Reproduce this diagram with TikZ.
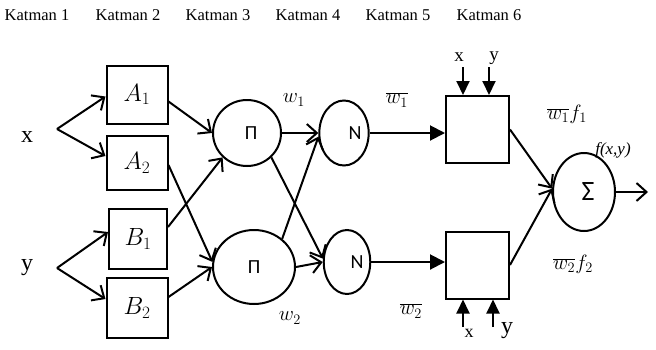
\documentclass[tikz,border=0pt]{standalone}
\usepackage{fontspec}
\setmainfont{Liberation Serif}
\newfontfamily\opfont{Carlito}
\usetikzlibrary{shapes.geometric, arrows.meta, positioning}

\begin{document}
\begin{tikzpicture}[
    x=1pt, y=-1pt,
    line width=2pt,
    layer/.style={font=\fontsize{16.5}{18}\selectfont, inner sep=0pt},
    inlabel/.style={font=\fontsize{24}{26}\selectfont, inner sep=0pt},
    smalllabel/.style={font=\fontsize{19}{20}\selectfont, inner sep=0pt},
    mfbox/.style={draw, rectangle, minimum width=61pt, minimum height=58pt, inner sep=0pt, font=\fontsize{25}{28}\selectfont},
    rulebox/.style={draw, rectangle, minimum width=63pt, minimum height=67pt, inner sep=0pt},
    opnode/.style={draw, ellipse, inner sep=0pt, font=\opfont\fontsize{20}{22}\selectfont},
    wlabel/.style={font=\fontsize{20}{22}\selectfont, inner sep=0pt},
    arrow/.style={-{Straight Barb[length=10pt,width=18pt]}},
    fillarrow/.style={-{Triangle[length=15pt,width=15pt]}}
]
\useasboundingbox (0,0) rectangle (656,349);

% Layer titles
\node[layer] (k1) at (37,15) {Katman 1};
\node[layer] (k2) at (128,15) {Katman 2};
\node[layer] (k3) at (218,15) {Katman 3};
\node[layer] (k4) at (308,15) {Katman 4};
\node[layer] (k5) at (398,15) {Katman 5};
\node[layer] (k6) at (489,15) {Katman 6};

% Inputs
\node[inlabel] (xin) at (27,137) {x};
\node[inlabel] (yin) at (27,268) {y};
\coordinate (xsplit) at (57,129);
\coordinate (ysplit) at (57,268);

% Membership functions
\node[mfbox] (a1) at (137,94.5) {$A_1$};
\node[mfbox, minimum height=54pt] (a2) at (137,163) {$A_2$};
\node[mfbox, minimum width=58pt, minimum height=60pt] (b1) at (138,239) {$B_1$};
\node[mfbox, minimum height=60pt] (b2) at (137,308) {$B_2$};

% Product nodes
\node[opnode, minimum width=68pt, minimum height=66pt] (pi1) at (247,133) {\hspace*{8pt}Π};
\node[opnode, minimum width=82pt, minimum height=74pt] (pi2) at (254,267) {Π};
\node[wlabel] (w1) at (294,100) {$w_1$};
\node[wlabel] (w2) at (290,318) {$w_2$};

% Normalisation nodes
\node[opnode, minimum width=45pt, minimum height=65pt] (n1) at (344,133) {\hspace*{22pt}N};
\node[opnode, minimum width=43pt, minimum height=64pt] (n2) at (347,262) {\hspace*{20pt}N};
\node[wlabel] (wb1) at (397,100) {$\overline{w_1}$};
\node[wlabel] (wb2) at (411,311) {$\overline{w_2}$};

% Rule outputs
\node[rulebox] (rule1) at (477.5,129.5) {};
\node[rulebox] (rule2) at (477.5,265) {};
\node[smalllabel] (xt) at (459,57) {x};
\node[smalllabel] (yt) at (494,58) {y};
\coordinate (xtop) at (463,67);
\coordinate (ytop) at (489,67);
\node[smalllabel, font=\fontsize{18}{20}\selectfont] (xb) at (469,333) {x};
\node[inlabel] (yb) at (507,331) {y};
\coordinate (xbot) at (463,327);
\coordinate (ybot) at (493,327);
\node[wlabel] (wf1) at (567,114) {$\overline{w_1}f_1$};
\node[wlabel] (wf2) at (573,264) {$\overline{w_2}f_2$};

% Sum node
\node[opnode, minimum width=62pt, minimum height=78pt, font=\opfont\fontsize{28}{30}\selectfont] (sum) at (584,192) {\hspace*{8pt}Σ};
\node[smalllabel, font=\itshape\fontsize{17}{20}\selectfont] (fxy) at (613,150) {f(x,y)};
\coordinate (out) at (648,192);

% Arrows
\draw[arrow] (xsplit) -- ([yshift=-2pt]a1.west);
\draw[arrow] (xsplit) -- ([yshift=7pt]a2.west);
\draw[arrow] (ysplit) -- ([yshift=7pt]b1.west);
\draw[arrow] (ysplit) -- ([yshift=9pt]b2.west);
\draw[arrow] ([yshift=-7pt]a1.east) -- (pi1.west);
\draw[arrow] ([yshift=-2pt]a2.east) -- (pi2.173);
\draw[arrow] ([yshift=12pt]b1.east) -- (pi1.225);
\draw[arrow] ([yshift=11pt]b2.east) -- (pi2.west);
\draw[arrow] (pi1.east) -- (n1.west);
\draw[arrow] (pi1.-45) -- (n2.172);
\draw[arrow] (pi2.45) -- (n1.188);
\draw[arrow] (pi2.east) -- (n2.west);
\draw[fillarrow] (n1.east) -- (n1.east -| rule1.west);
\draw[fillarrow] (n2.east) -- (n2.east -| rule2.west);
\draw[fillarrow, -{Triangle[length=14pt,width=13pt]}] (xtop) -- (xtop |- rule1.north);
\draw[fillarrow, -{Triangle[length=14pt,width=13pt]}] (ytop) -- (ytop |- rule1.north);
\draw[fillarrow, -{Triangle[length=14pt,width=13pt]}] (xbot) -- (xbot |- rule2.south);
\draw[fillarrow, -{Triangle[length=14pt,width=13pt]}] (ybot) -- (ybot |- rule2.south);
\draw[arrow] (rule1.east) -- (sum.174);
\draw[arrow] (rule2.east) -- (sum.174);
\draw[arrow] (sum.east) -- (out);

\end{tikzpicture}
\end{document}
